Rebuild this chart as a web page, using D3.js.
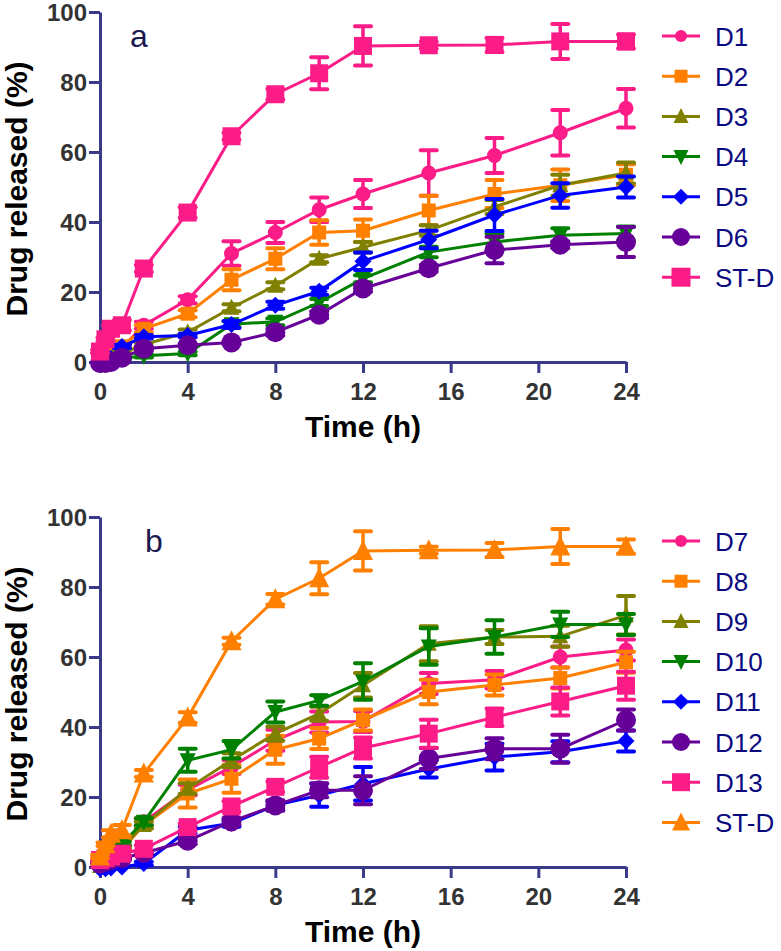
<!DOCTYPE html>
<html><head><meta charset="utf-8">
<script src="https://cdn.jsdelivr.net/npm/d3@7/dist/d3.min.js"></script>
<style>body{margin:0;background:#fff}svg{display:block}</style>
</head><body>
<svg id="c" width="781" height="951"></svg>
<script>
// ---- data ----
const times = [0, 0.25, 0.5, 1, 2, 4, 6, 8, 10, 12, 15, 18, 21, 24];
const xTicks = [0, 4, 8, 12, 16, 20, 24];
const yTicks = [0, 20, 40, 60, 80, 100];

// panel a
const D1 = [0, 1, 2, 4, 10.5, 17.8, 31, 37, 43.5, 48, 54, 59, 65.5, 72.5];
const D1err = [0, 0, 0.5, 0.5, 1, 1, 3.5, 3, 3.5, 4, 6.5, 5, 6.5, 5.5];
const D2 = [0, 1, 2, 4.5, 9.5, 13.8, 23.5, 29.5, 37, 37.5, 43.3, 48, 50.5, 53.5];
const D2err = [0, 0, 0.5, 0.5, 1, 1, 3, 3, 3.5, 3.2, 4.2, 4, 4.5, 3];
const D3 = [0, 0.5, 1, 2.5, 5, 8.5, 15.5, 21.8, 29.5, 32.8, 37.6, 44.3, 50.5, 54];
const D3err = [0, 0, 0, 0.5, 0.5, 0.8, 1, 1, 1, 1.5, 1.5, 2, 3, 3];
const D4 = [0, 0.3, 0.5, 1, 1.8, 2.4, 10.8, 11.5, 17, 23.8, 31.4, 34.3, 36.2, 36.7];
const D4err = [0, 0, 0, 0.3, 0.5, 0.5, 0.8, 1, 1, 1, 1.5, 2.4, 2, 2];
const D5 = [0, 0.5, 1, 4.4, 7.2, 7.6, 10.7, 16.2, 20.2, 28.8, 35, 42, 47.6, 50];
const D5err = [0, 0, 0, 0.5, 0.5, 0.5, 1, 1, 1, 2.5, 2.5, 4.6, 3.5, 3];
const D6 = [-0.3, -0.3, 0, 1.2, 3.8, 4.8, 5.6, 8.5, 13.5, 21, 26.8, 32, 33.5, 34.3];
const D6err = [0, 0, 0, 0, 0.5, 0.5, 0.5, 1, 1, 1, 1, 3.8, 1, 4.3];
const STD = [3, 6.5, 9.5, 10.5, 26.7, 42.7, 64.5, 76.5, 82.5, 90.3, 90.5, 90.6, 91.6, 91.6];
const STDerr = [0.5, 0.5, 1, 1.5, 1, 1.5, 1, 1.5, 4.6, 5.6, 1, 2, 5, 2];

// panel b
const D7 = [0.5, 2, 3.5, 5.5, 12.9, 22, 28.6, 36.2, 41.4, 41.6, 52.4, 53.5, 60, 62];
const D7err = [0, 0, 0.5, 0.5, 1, 1.5, 2, 3, 3, 3, 3, 2.5, 3, 3];
const D8 = [0.5, 2, 3, 5, 12, 21, 25.2, 33.5, 36.7, 42, 50, 52, 54, 58.5];
const D8err = [0, 0, 0.5, 0.5, 1, 4, 4, 4, 3, 3, 3.5, 3, 3, 3];
const D9 = [0.3, 1.5, 3, 5.5, 12, 22.4, 30.5, 38.1, 43.8, 51.9, 63.8, 65.7, 65.9, 71.9];
const D9err = [0, 0, 0.5, 0.5, 1, 1.5, 2, 2, 2, 3.5, 5, 2, 3, 5.5];
const D10 = [0.5, 2, 4, 6.7, 12.9, 30.5, 33.5, 44.3, 47.6, 53, 63, 65.7, 69.3, 69.3];
const D10err = [0, 0, 0.5, 0.5, 1, 3.3, 2.5, 3, 1.5, 5.2, 5.2, 4.8, 3.6, 3];
const D11 = [-0.5, -0.5, -0.3, 0, 1, 10.5, 12.5, 17.6, 20.5, 23.8, 28, 31.4, 32.9, 36];
const D11err = [0, 0, 0, 0, 0.5, 1, 1, 1, 3.3, 4.8, 2.4, 3.8, 3, 3];
const D12 = [1, 1.5, 2, 2.5, 4, 7.5, 13, 17.6, 21.9, 21.9, 31, 33.8, 33.8, 42];
const D12err = [0, 0, 0, 0.5, 0.5, 1, 1, 1.5, 2, 4, 3, 3, 4, 3];
const D13 = [2, 2.5, 3, 3.8, 5.2, 11.4, 17.3, 22.9, 28.5, 34, 38.1, 42.8, 47.3, 51.8];
const D13err = [0.5, 0.5, 0.5, 0.5, 1, 1, 1.5, 1.5, 3, 3, 4, 2.5, 4, 4];

const PINK = "#fc1c87", ORANGE = "#ff8000", OLIVE = "#808000", GREEN = "#008000",
      BLUE = "#0000ff", PURPLE = "#660099";

const panelA = [
  {name: "D1", v: D1, e: D1err, color: PINK, shape: "circle", s: 15, ls: 12},
  {name: "D2", v: D2, e: D2err, color: ORANGE, shape: "square", s: 14, ls: 13},
  {name: "D3", v: D3, e: D3err, color: OLIVE, shape: "tri", s: 16, ls: 15},
  {name: "D4", v: D4, e: D4err, color: GREEN, shape: "tridown", s: 16, ls: 15},
  {name: "D5", v: D5, e: D5err, color: BLUE, shape: "diamond", s: 17, ls: 16},
  {name: "D6", v: D6, e: D6err, color: PURPLE, shape: "circle", s: 20, ls: 18},
  {name: "ST-D", v: STD, e: STDerr, color: PINK, shape: "square", s: 18, ls: 19}
];
const panelB = [
  {name: "D7", v: D7, e: D7err, color: PINK, shape: "circle", s: 15, ls: 12},
  {name: "D8", v: D8, e: D8err, color: ORANGE, shape: "square", s: 14, ls: 13},
  {name: "D9", v: D9, e: D9err, color: OLIVE, shape: "tri", s: 16, ls: 15},
  {name: "D10", v: D10, e: D10err, color: GREEN, shape: "tridown", s: 16, ls: 15},
  {name: "D11", v: D11, e: D11err, color: BLUE, shape: "diamond", s: 17, ls: 16},
  {name: "D12", v: D12, e: D12err, color: PURPLE, shape: "circle", s: 20, ls: 18},
  {name: "D13", v: D13, e: D13err, color: PINK, shape: "square", s: 18, ls: 18},
  {name: "ST-D", v: STD, e: STDerr, color: ORANGE, shape: "tri", s: 20, ls: 18}
];

// ---- drawing ----
const svg = d3.select("#c");
const AXIS = "#3a3a8a", TICKTXT = "#333333", LEGTXT = "#0a0a80";

function shapePath(shape, s) {
  const h = s / 2;
  switch (shape) {
    case "circle": return d3.symbol(d3.symbolCircle, Math.PI * h * h)();
    case "square": return `M${-h},${-h}H${h}V${h}H${-h}Z`;
    case "tri": return `M0,${-h - 1}L${h},${h - 1}L${-h},${h - 1}Z`;
    case "tridown": return `M0,${h + 1}L${h},${-h + 1}L${-h},${-h + 1}Z`;
    case "diamond": return `M0,${-h}L${h},0L0,${h}L${-h},0Z`;
  }
}

function panel(series, top, letter, letterX) {
  const bottom = top + 350;
  const x = d3.scaleLinear().domain([0, 24]).range([100, 626]);
  const y = d3.scaleLinear().domain([0, 100]).range([bottom, top]);
  const g = svg.append("g");

  // axes
  const xa = g.append("g").attr("transform", `translate(0,${bottom})`)
    .call(d3.axisBottom(x).tickValues(xTicks).tickSize(11).tickSizeOuter(0).tickPadding(10));
  const ya = g.append("g").attr("transform", `translate(100,0)`)
    .call(d3.axisLeft(y).tickValues(yTicks).tickSize(11).tickSizeOuter(0).tickPadding(2));
  [xa, ya].forEach(a => {
    a.select(".domain").attr("stroke", AXIS).attr("stroke-width", 3);
    a.selectAll(".tick line").attr("stroke", AXIS).attr("stroke-width", 3);
    a.selectAll(".tick text").attr("fill", TICKTXT)
      .style("font", "bold 24px Liberation Sans, Arial, sans-serif");
  });
  ya.selectAll(".tick text").attr("dy", "0.36em");

  g.append("text").attr("x", 363).attr("y", bottom + 75).attr("text-anchor", "middle")
    .style("font", "bold 30px Liberation Sans, Arial, sans-serif").attr("fill", "#000")
    .text("Time (h)");
  g.append("text").attr("transform", `translate(27,${(top + bottom) / 2 + 2}) rotate(-90)`)
    .attr("text-anchor", "middle")
    .style("font", "bold 30px Liberation Sans, Arial, sans-serif").attr("fill", "#000")
    .text("Drug released (%)");
  g.append("text").attr("x", letterX).attr("y", top + 35)
    .style("font", "32px Liberation Sans, Arial, sans-serif").attr("fill", "#1a1a50")
    .text(letter);

  const line = d3.line().x((d, i) => x(times[i])).y(d => y(d));
  series.forEach(s => {
    const sg = g.append("g");
    sg.append("path").attr("d", line(s.v)).attr("fill", "none")
      .attr("stroke", s.color).attr("stroke-width", 3);
    const eb = sg.selectAll("g.eb").data(s.v.map((v, i) => ({t: times[i], v, e: s.e[i]})))
      .enter().append("g");
    eb.filter(d => d.e > 0).each(function (d) {
      const gg = d3.select(this);
      gg.append("line").attr("x1", x(d.t)).attr("x2", x(d.t))
        .attr("y1", y(d.v + d.e)).attr("y2", y(d.v - d.e))
        .attr("stroke", s.color).attr("stroke-width", 3.5);
      [d.v + d.e, d.v - d.e].forEach(vv => {
        gg.append("line").attr("x1", x(d.t) - 8).attr("x2", x(d.t) + 8)
          .attr("y1", y(vv)).attr("y2", y(vv))
          .attr("stroke", s.color).attr("stroke-width", 4).attr("stroke-linecap", "round");
      });
    });
    sg.selectAll("path.m").data(s.v).enter().append("path")
      .attr("d", shapePath(s.shape, s.s))
      .attr("transform", (d, i) => `translate(${x(times[i])},${y(d)})`)
      .attr("fill", s.color);
  });

  // legend
  series.forEach((s, i) => {
    const cy = top + 24 + i * 40.2;
    const lg = svg.append("g");
    lg.append("line").attr("x1", 662).attr("x2", 700).attr("y1", cy).attr("y2", cy)
      .attr("stroke", s.color).attr("stroke-width", 3);
    lg.append("path").attr("d", shapePath(s.shape, s.ls))
      .attr("transform", `translate(681,${cy})`).attr("fill", s.color);
    lg.append("text").attr("x", 715).attr("y", cy + 9.5)
      .style("font", "26px Liberation Sans, Arial, sans-serif").attr("fill", LEGTXT)
      .text(s.name);
  });
}

panel(panelA, 12, "a", 130);
panel(panelB, 517, "b", 145);
</script>
</body></html>
